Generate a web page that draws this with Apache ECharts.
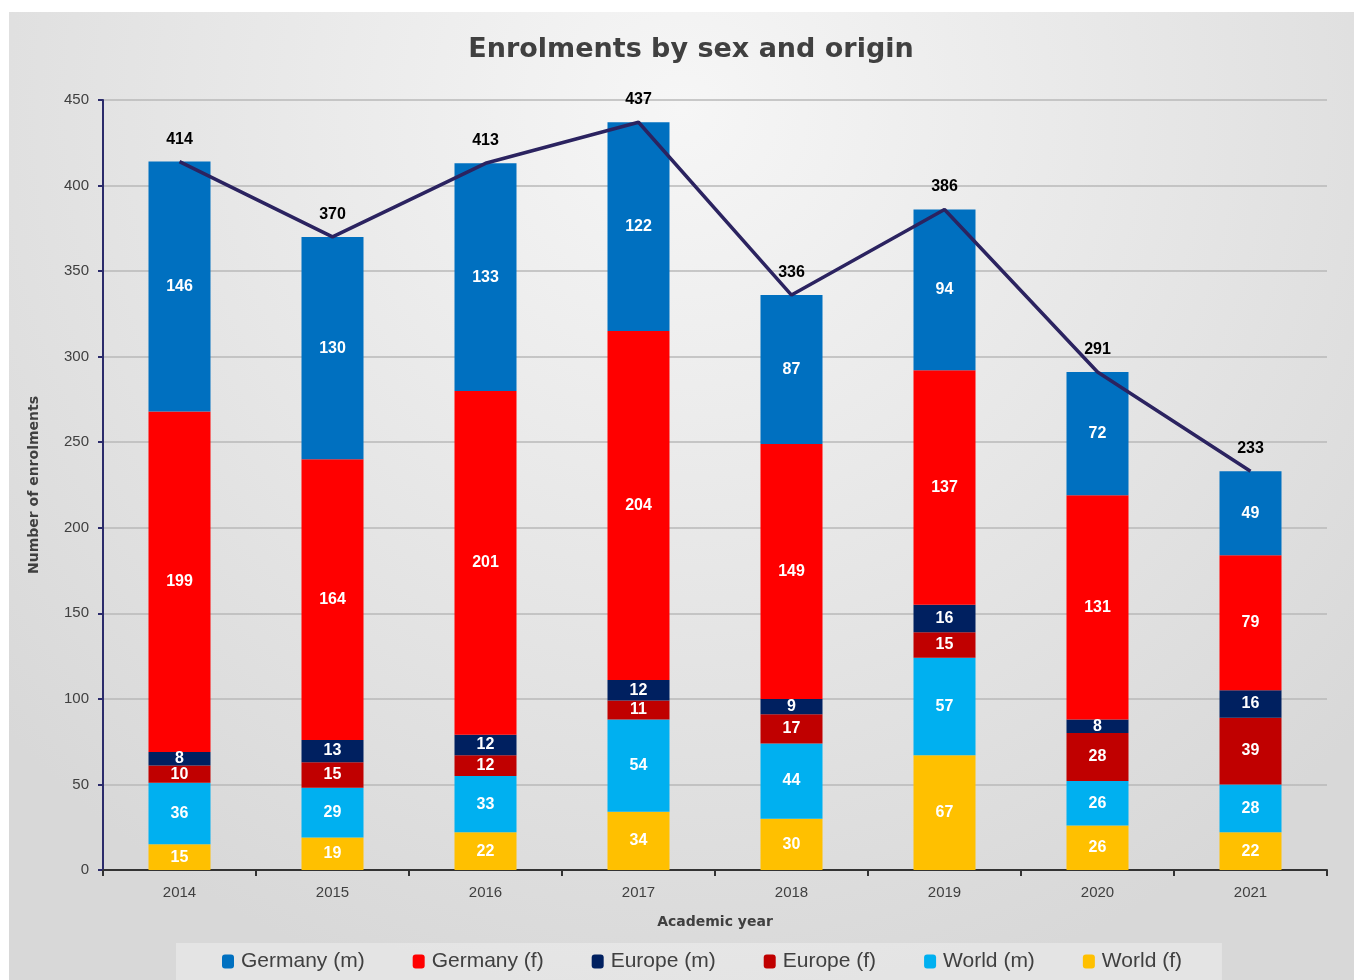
<!DOCTYPE html>
<html>
<head>
<meta charset="utf-8">
<script src="https://cdn.jsdelivr.net/npm/echarts@6/dist/echarts.min.js"></script>
<style>
html,body{margin:0;padding:0;background:#fff;}
#chart{width:1354px;height:980px;}
</style>
</head>
<body>
<div id="chart"></div>
<script>
const years = ['2014','2015','2016','2017','2018','2019','2020','2021'];
const worldF   = [15, 19, 22, 34, 30, 67, 26, 22];
const worldM   = [36, 29, 33, 54, 44, 57, 26, 28];
const europeF  = [10, 15, 12, 11, 17, 15, 28, 39];
const europeM  = [8, 13, 12, 12, 9, 16, 8, 16];
const germanyF = [199, 164, 201, 204, 149, 137, 131, 79];
const germanyM = [146, 130, 133, 122, 87, 94, 72, 49];
const totals   = [414, 370, 413, 437, 336, 386, 291, 233];
const yTicks   = [0, 450, 50];

const chart = echarts.init(document.getElementById('chart'));
const barLabel = {show:true, position:'inside', color:'#fff', fontWeight:'bold', fontSize:16, fontFamily:'Liberation Sans, Arial, sans-serif'};
function bar(name, data, color){
  return {name, type:'bar', stack:'total', data, barWidth:62, itemStyle:{color}, label:barLabel, emphasis:{disabled:true}};
}
chart.setOption({
  animation:false,
  graphic:[{
    type:'rect', z:-10, silent:true,
    shape:{x:9, y:12, width:1345, height:968},
    style:{fill:new echarts.graphic.RadialGradient(0.5, 0.1, 0.95, [
      {offset:0, color:'#f6f6f6'}, {offset:0.5, color:'#e7e7e7'}, {offset:1, color:'#d8d8d8'}
    ])}
  }],
  title:{text:'Enrolments by sex and origin', left:686, textAlign:'center', top:31,
    textStyle:{fontFamily:'DejaVu Sans, sans-serif', fontWeight:'bold', fontSize:27, color:'#404040'}},
  legend:{bottom:0, left:176, itemWidth:12, itemHeight:14, itemGap:48,
    padding:[8,40,8,46], backgroundColor:'rgba(255,255,255,0.3)',
    textStyle:{fontFamily:'Liberation Sans, Arial, sans-serif', fontSize:21, color:'#404040', padding:[0,0,0,2]},
    data:['Germany (m)','Germany (f)','Europe (m)','Europe (f)','World (m)','World (f)']},
  grid:{left:103, right:27, top:100, bottom:110},
  xAxis:{type:'category', data:years,
    axisLine:{lineStyle:{color:'#333', width:2}},
    axisTick:{show:true, length:6, lineStyle:{color:'#333', width:2}},
    axisLabel:{color:'#404040', fontSize:15, margin:15, fontFamily:'Liberation Sans, Arial, sans-serif'},
    name:'Academic year', nameLocation:'middle', nameGap:45,
    nameTextStyle:{fontFamily:'DejaVu Sans, sans-serif', fontWeight:'bold', fontSize:14, color:'#404040'}},
  yAxis:{type:'value', min:yTicks[0], max:yTicks[1], interval:yTicks[2],
    axisLine:{show:true, lineStyle:{color:'#2b2b6b', width:2}},
    axisTick:{show:true, length:5, lineStyle:{color:'#2b2b6b', width:2}},
    axisLabel:{color:'#404040', fontSize:15, margin:14, fontFamily:'Liberation Sans, Arial, sans-serif'},
    splitLine:{lineStyle:{color:'#b9b9b9', width:1.5}},
    name:'Number of enrolments', nameLocation:'middle', nameGap:62,
    nameTextStyle:{fontFamily:'DejaVu Sans, sans-serif', fontWeight:'bold', fontSize:14, color:'#404040'}},
  series:[
    bar('World (f)', worldF, '#ffc000'),
    bar('World (m)', worldM, '#00b0f0'),
    bar('Europe (f)', europeF, '#c00000'),
    bar('Europe (m)', europeM, '#002060'),
    bar('Germany (f)', germanyF, '#ff0000'),
    bar('Germany (m)', germanyM, '#0070c0'),
    {name:'Total', type:'line', data:totals, z:10, symbol:'circle', symbolSize:1, showSymbol:true,
      itemStyle:{color:'rgba(0,0,0,0)'},
      lineStyle:{color:'#2b2360', width:3.5},
      label:{show:true, position:'top', distance:14, color:'#000', fontWeight:'bold', fontSize:16, fontFamily:'Liberation Sans, Arial, sans-serif'}}
  ]
});
</script>
</body>
</html>
